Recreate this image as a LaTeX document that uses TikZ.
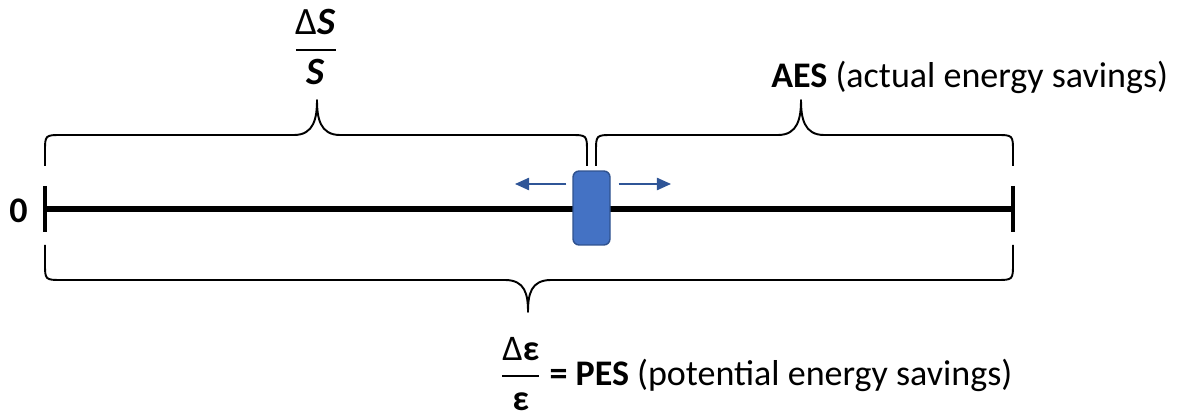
\documentclass[tikz,border=0pt]{standalone}
\usepackage{amsmath}
\usepackage{fontspec}
\setmainfont{Carlito}
\usepackage{xcolor}
\usepackage{tikz}
\usetikzlibrary{arrows.meta}

\definecolor{sliderblue}{HTML}{4472C4}
\definecolor{slideredge}{HTML}{2F528F}
\definecolor{arrowblue}{HTML}{2F5597}

\newcommand{\barfrac}[2]{\genfrac{}{}{1.1pt}{0}{#1}{#2}}

\tikzset{
  label/.style={inner sep=0pt, font=\fontsize{20.5}{24}\selectfont},
  axis/.style={line width=3.4pt},
  tick/.style={line width=2.8pt},
  curly/.style={line width=1.1pt, line join=round},
  slider/.style={draw=slideredge, fill=sliderblue, line width=0.8pt,
                 rounded corners=3.5pt, minimum width=0.74cm, minimum height=1.48cm, inner sep=0pt},
  move/.style={draw=arrowblue, line width=0.85pt, -{Triangle[length=8pt,width=7pt]}}
}

\begin{document}
\begin{tikzpicture}[x=0.02cm, y=-0.02cm]
\useasboundingbox (0,0) rectangle (1177,418);

% Ends of the scale
\coordinate (start) at (45,209);
\coordinate (stop) at (1013,209);

% Scale line and end marks
\draw[axis] (start) -- (stop);
\draw[tick] (start) ++(0,-23) -- ++(0,46);
\draw[tick] (stop) ++(0,-23) -- ++(0,46);
\node[label, anchor=east] (zero) at (28,211) {\textbf{0}};

% Slider and its arrows
\node[slider] (slider) at (591.5,208) {};
\coordinate (lefttip) at (515,184);
\coordinate (righttip) at (671,184);
\draw[move] ([shift={(-6,-24)}]slider.west) -- (lefttip);
\draw[move] ([shift={(8,-24)}]slider.east) -- (righttip);

% Upper braces
\draw[curly] (45,166) -- (45,152) .. controls (45,135) .. (62,135) -- (294,135)
    .. controls (314,135) and (317,118) .. (317,100)
    .. controls (317,118) and (320,135) .. (340,135) -- (570,135)
    .. controls (587,135) .. (587,152) -- (587,166);
\draw[curly] (596,166) -- (596,152) .. controls (596,135) .. (613,135) -- (778,135)
    .. controls (798,135) and (801,118) .. (801,100)
    .. controls (801,118) and (804,135) .. (824,135) -- (996,135)
    .. controls (1013,135) .. (1013,152) -- (1013,166);

% Lower brace
\draw[curly] (45,245) -- (45,263) .. controls (45,280) .. (62,280) -- (505,280)
    .. controls (525,280) and (528,294) .. (528,312)
    .. controls (528,294) and (531,280) .. (551,280) -- (996,280)
    .. controls (1013,280) .. (1013,263) -- (1013,245);

% Labels
\node[label] (ratio) at (316,47) {$\barfrac{\mbox{\fontsize{22}{26}\selectfont Δ\textbf{\textit{S}}}}{\mbox{\fontsize{22}{26}\selectfont\textbf{\textit{S}}}}$};
\node[label, anchor=west] (aes) at (771,77) {\textbf{AES} (actual energy savings)};
\node[label, anchor=west] (pes) at (500,374)
  {$\barfrac{\mbox{Δ\textbf{ε}}}{\mbox{\textbf{ε}}}$ \textbf{=~PES} (potential energy savings)};

\end{tikzpicture}
\end{document}
